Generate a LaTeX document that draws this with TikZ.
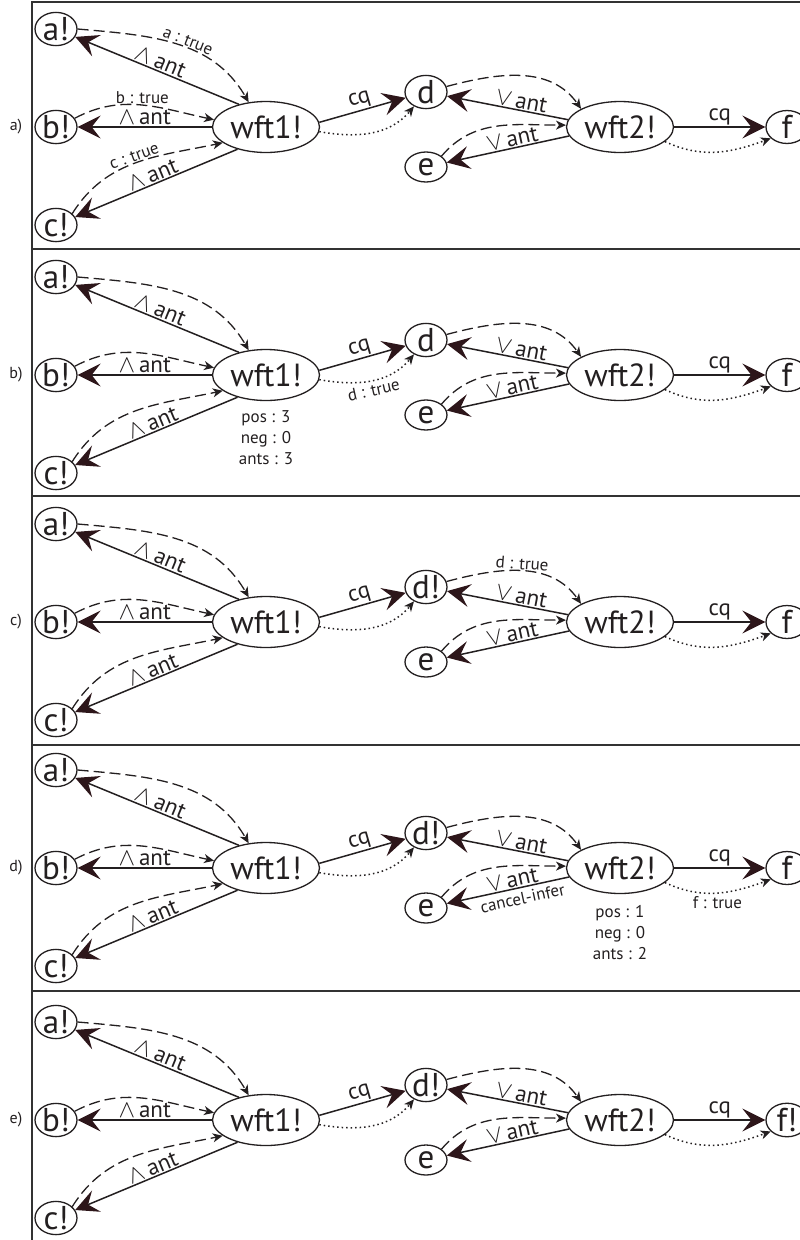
\documentclass[tikz,border=0pt]{standalone}
\usepackage{fontspec}
\setmainfont{PT Sans}
\usetikzlibrary{shapes.geometric,arrows.meta}
\definecolor{ink}{RGB}{35,31,32}
\definecolor{tipc}{RGB}{45,22,26}
\definecolor{frame}{RGB}{50,50,50}
\tikzset{
  sm/.style={ellipse, draw=ink, line width=1.3pt, minimum width=42pt, minimum height=30pt, inner sep=0pt, text=ink, font=\fontsize{33}{33}\selectfont},
  wf/.style={ellipse, draw=ink, line width=1.3pt, minimum width=107pt, minimum height=51pt, inner sep=0pt, text=ink, font=\fontsize{32}{32}\selectfont},
  sol/.style={draw=ink, line width=1.5pt, -{Stealth[length=23pt,width=23pt,inset=9pt,color=tipc]}},
  dsh/.style={draw=ink, line width=1.3pt, dash pattern=on 11pt off 5pt, -{Stealth[length=10pt,width=9pt,inset=3pt]}},
  dtt/.style={draw=ink, line width=1.5pt, dash pattern=on 1.5pt off 3pt, -{Stealth[length=10pt,width=9pt,inset=3pt]}},
  lab/.style={font=\fontsize{23}{23}\selectfont, text=ink, inner sep=1pt},
  slab/.style={font=\fontsize{17}{17}\selectfont, text=ink, inner sep=1.5pt},
  plab/.style={font=\fontsize{16}{16}\selectfont, text=ink, inner sep=0pt},
  stat/.style={font=\fontsize{17}{21}\selectfont, text=ink, align=center, inner sep=0pt},
  dashAW/.style={out=-5,in=120},
  dashBW/.style={out=28,in=168},
  dashCW/.style={out=58,in=192},
  dotWD/.style={out=-10,in=230},
  dashDW/.style={out=15,in=125},
  dashEW/.style={out=50,in=180},
  dotWF/.style={out=-25,in=200},
}
\newcommand\wedgeant{$\wedge$\,ant}
\newcommand\veeant{$\vee$\,ant}
\newcommand\drawpanel[5]{%
\begin{scope}[yshift=-#2pt]
  \node[plab] (lab#1) at (16,0) {#3};
  \node[sm] (a#1) at (56,98) {a!};
  \node[sm] (b#1) at (56,0) {b!};
  \node[sm] (c#1) at (56,-98) {c!};
  \node[wf] (wa#1) at (266,0) {wft1!};
  \node[sm] (d#1) at (426,35) {#4};
  \node[sm] (e#1) at (426,-40) {e};
  \node[wf] (wb#1) at (620,0) {wft2!};
  \node[sm] (f#1) at (787,0) {#5};
  \draw[dsh] (a#1.east) to[dashAW] (wa#1.125);
  \draw[sol] (wa#1.140) -- node[lab,sloped,above]{\wedgeant} (a#1);
  \draw[dsh] (b#1.25) to[dashBW] (wa#1.172);
  \draw[sol] (wa#1.west) -- node[lab,above]{\wedgeant} (b#1);
  \draw[dsh] (c#1.35) to[dashCW] (wa#1.200);
  \draw[sol] (wa#1.218) -- node[lab,sloped,above]{\wedgeant} (c#1);
  \draw[sol] (wa#1.5) -- node[lab,sloped,above]{cq} (d#1);
  \draw[dtt] (wa#1.-5) to[dotWD] (d#1.230);
  \draw[dsh] (d#1.15) to[dashDW] (wb#1.155);
  \draw[sol] (wb#1.172) -- node[lab,sloped,above,pos=0.4]{\veeant} (d#1);
  \draw[dsh] (e#1.35) to[dashEW] (wb#1.178);
  \draw[sol] (wb#1.190) -- node[lab,sloped,above,pos=0.45]{\veeant} (e#1);
  \draw[sol] (wb#1.east) -- node[lab,above]{cq} (f#1);
  \draw[dtt] (wb#1.-18) to[dotWF] (f#1.215);
\end{scope}}
\begin{document}
\begin{tikzpicture}[x=1pt,y=1pt]
  \useasboundingbox (0,0) rectangle (800,-1240);
  \clip (0,0) rectangle (800,-1240);
  % frame
  \draw[frame, line width=1.5pt] (32,-1240) -- (32,-2) -- (810,-2);
  \foreach \yy in {249,496,745,991} { \draw[frame, line width=1.5pt] (32,-\yy) -- (810,-\yy); }
  \drawpanel{1}{127}{a)}{d}{f}
  \drawpanel{2}{375}{b)}{d}{f}
  \drawpanel{3}{622}{c)}{d!}{f}
  \drawpanel{4}{868}{d)}{d!}{f}
  \drawpanel{5}{1120}{e)}{d!}{f!}
  % panel a: labels on the dashed connectors
  \path (a1.east) to[dashAW] node[slab,sloped,above,pos=0.55]{a : true} (wa1.125);
  \path (b1.25) to[dashBW] node[slab,above,pos=0.5]{b : true} (wa1.172);
  \path (c1.35) to[dashCW] node[slab,sloped,above,pos=0.5]{c : true} (wa1.200);
  % panel b
  \path (wa2.-5) to[dotWD] node[slab,sloped,below=2pt,pos=0.5]{d : true} (d2.230);
  \node[stat] (st2) at (266,-438) {pos : 3\\neg : 0\\ants : 3};
  % panel c
  \path (d3.15) to[dashDW] node[slab,sloped,above,pos=0.5]{d : true} (wb3.155);
  % panel d
  \path (wb4.190) -- node[slab,sloped,below=3pt,pos=0.4]{cancel-infer} (e4);
  \node[stat] (st4) at (620,-933) {pos : 1\\neg : 0\\ants : 2};
  \path (wb4.-18) to[dotWF] node[slab,below=2pt,pos=0.5]{f : true} (f4.215);
\end{tikzpicture}
\end{document}
